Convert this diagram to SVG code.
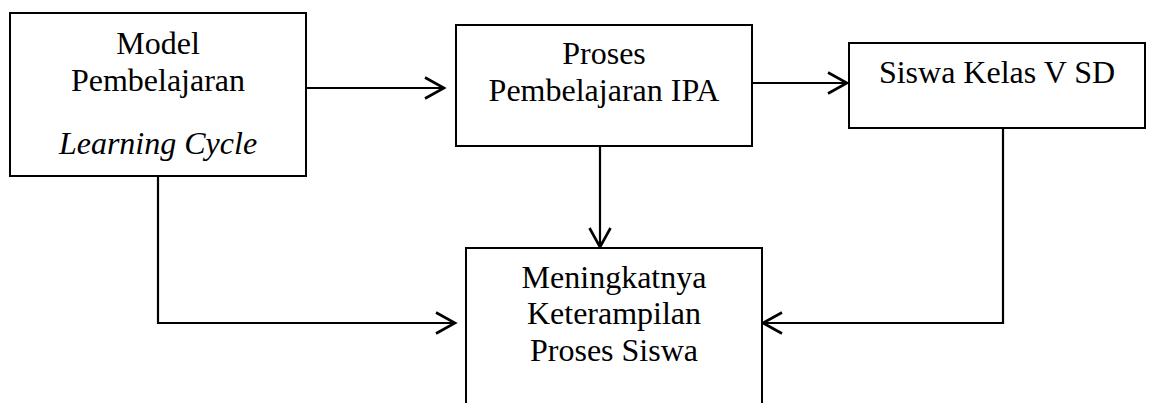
<svg xmlns="http://www.w3.org/2000/svg" width="1150" height="403" viewBox="0 0 1150 403">
<style>
.box{fill:#fff;stroke:#000;stroke-width:2}
.t{font-family:"Liberation Serif","Times New Roman",serif;font-size:32px;fill:#000;text-anchor:middle}
.i{font-style:italic}
.c{fill:none;stroke:#000;stroke-width:2.2}
</style>
<defs>
<marker id="ah" markerUnits="userSpaceOnUse" markerWidth="24" markerHeight="26" viewBox="0 0 24 26" refX="21" refY="13" orient="auto">
<path d="M2,2.5 L21,13 L2,23.5" fill="none" stroke="#000" stroke-width="2.6"/>
</marker>
</defs>
<rect width="1150" height="403" fill="#fff"/>
<g id="connectors">
<line class="c" x1="306" y1="88" x2="444" y2="88" marker-end="url(#ah)"/>
<line class="c" x1="752" y1="83" x2="847" y2="83" marker-end="url(#ah)"/>
<line class="c" x1="600" y1="146" x2="600" y2="247" marker-end="url(#ah)"/>
<polyline class="c" points="158,176 158,323 455,323" marker-end="url(#ah)"/>
<polyline class="c" points="1003,128 1003,323 763,323" marker-end="url(#ah)"/>
</g>
<g id="node-model">
<rect class="box" x="10" y="13" width="296" height="163"/>
<text class="t" x="158" y="54">Model</text>
<text class="t" x="158" y="91">Pembelajaran</text>
<text class="t i" x="158" y="154">Learning Cycle</text>
</g>
<g id="node-proses">
<rect class="box" x="456" y="25" width="296" height="121"/>
<text class="t" x="604" y="64">Proses</text>
<text class="t" x="604" y="101">Pembelajaran IPA</text>
</g>
<g id="node-siswa">
<rect class="box" x="849" y="43" width="296" height="85"/>
<text class="t" x="997" y="83">Siswa Kelas V SD</text>
</g>
<g id="node-hasil">
<rect class="box" x="466" y="248" width="296" height="200"/>
<text class="t" x="614" y="288">Meningkatnya</text>
<text class="t" x="614" y="324">Keterampilan</text>
<text class="t" x="614" y="361">Proses Siswa</text>
</g>
</svg>
